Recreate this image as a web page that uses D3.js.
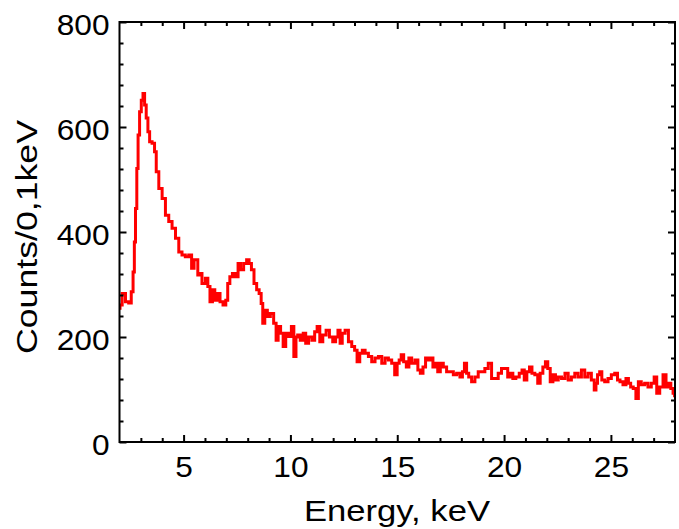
<!DOCTYPE html>
<html>
<head>
<meta charset="utf-8">
<script src="https://cdn.jsdelivr.net/npm/d3@7"></script>
<style>
  html, body { margin: 0; padding: 0; background: #fff; }
  svg { display: block; }
  text { font-family: "Liberation Sans", Arial, Helvetica, sans-serif; fill: #000; }
</style>
</head>
<body>
<svg id="chart" width="679" height="529"></svg>
<script>
// Spectrum: channel energy (keV) and counts per 0.1 keV
const energy = [
  2.00, 2.05, 2.20, 2.36, 2.50, 2.60, 2.67, 2.72, 2.78, 2.84, 2.90, 2.98, 3.06, 3.14, 3.21, 3.29,
  3.37, 3.45, 3.60, 3.68, 3.76, 3.92, 4.07, 4.23, 4.38, 4.54, 4.70, 4.85, 5.00, 5.16, 5.32, 5.43,
  5.55, 5.63, 5.70, 5.78, 5.94, 6.10, 6.17, 6.30, 6.40, 6.52, 6.64, 6.77, 6.92, 7.03, 7.10, 7.23,
  7.34, 7.50, 7.60, 7.73, 7.89, 8.01, 8.12, 8.23, 8.36, 8.48, 8.59, 8.67, 8.74, 8.86, 8.98, 9.14,
  9.29, 9.37, 9.48, 9.60, 9.72, 9.84, 9.99, 10.10, 10.22, 10.30, 10.38, 10.54, 10.66, 10.77, 10.93, 11.08,
  11.19, 11.31, 11.44, 11.59, 11.75, 11.90, 12.06, 12.17, 12.28, 12.37, 12.48, 12.64, 12.79, 12.95, 13.06, 13.18,
  13.31, 13.42, 13.57, 13.73, 13.88, 14.04, 14.20, 14.35, 14.51, 14.66, 14.82, 14.94, 15.05, 15.13, 15.24, 15.36,
  15.49, 15.60, 15.75, 15.91, 16.02, 16.14, 16.27, 16.38, 16.49, 16.61, 16.73, 16.84, 16.95, 17.08, 17.23, 17.39,
  17.55, 17.70, 17.86, 18.01, 18.09, 18.20, 18.29, 18.40, 18.56, 18.71, 18.87, 19.02, 19.18, 19.34, 19.49, 19.65,
  19.80, 19.96, 20.12, 20.22, 20.35, 20.47, 20.63, 20.79, 20.89, 21.00, 21.13, 21.25, 21.36, 21.52, 21.63, 21.75,
  21.88, 21.99, 22.10, 22.22, 22.35, 22.46, 22.61, 22.77, 22.93, 23.07, 23.23, 23.39, 23.54, 23.70, 23.85, 24.01,
  24.16, 24.28, 24.32, 24.43, 24.52, 24.63, 24.79, 24.94, 25.10, 25.26, 25.36, 25.49, 25.64, 25.77, 25.87, 25.98,
  26.11, 26.23, 26.34, 26.50, 26.66, 26.81, 26.97, 27.08, 27.21, 27.36, 27.52, 27.64, 27.75, 27.86, 27.96, 28.00
];
const counts = [
  255, 261, 283, 267, 265, 286, 324, 381, 445, 521, 585, 629, 651, 664, 642, 617,
  591, 572, 569, 553, 515, 483, 464, 432, 420, 407, 388, 362, 356, 353, 356, 331,
  347, 347, 318, 321, 302, 312, 296, 267, 290, 270, 283, 267, 261, 270, 302, 315,
  321, 315, 340, 328, 340, 347, 340, 328, 302, 290, 283, 264, 226, 251, 239, 245,
  226, 194, 220, 207, 182, 207, 201, 220, 163, 200, 204, 194, 207, 188, 200, 194,
  210, 220, 191, 204, 213, 200, 191, 200, 213, 188, 207, 213, 191, 182, 175, 153,
  169, 175, 169, 163, 153, 160, 163, 150, 160, 156, 150, 128, 150, 156, 166, 153,
  143, 160, 150, 156, 137, 131, 143, 160, 156, 160, 143, 150, 134, 150, 143, 134,
  134, 128, 131, 124, 134, 150, 131, 124, 115, 124, 134, 134, 140, 150, 121, 121,
  131, 140, 140, 124, 131, 121, 124, 131, 137, 118, 134, 143, 131, 128, 112, 131,
  143, 153, 140, 115, 128, 118, 124, 121, 131, 118, 124, 131, 124, 137, 124, 131,
  118, 99, 112, 128, 134, 118, 115, 121, 128, 131, 118, 115, 109, 121, 112, 105,
  102, 83, 115, 109, 112, 105, 112, 124, 93, 105, 128, 105, 112, 102, 93, 88
];

// Axis ticks
const xMajorTicks = [5, 10, 15, 20, 25];
const xMinorTicks = d3.range(3, 28, 1).filter(v => v % 5 !== 0);
const yMajorTicks = [0, 200, 400, 600, 800];
const yMinorTicks = d3.range(40, 800, 40).filter(v => v % 200 !== 0);

const xLabel = "Energy, keV";
const yLabel = "Counts/0,1keV";

const plotLeft = 119.5, plotRight = 675, plotTop = 22, plotBottom = 442;

const svg = d3.select("#chart");

const x = d3.scaleLinear().domain([2, 28]).range([plotLeft, plotRight]);
const y = d3.scaleLinear().domain([0, 800]).range([plotBottom, plotTop]);

const data = energy.map((e, i) => ({ e, c: counts[i] }));

// Plot clip
svg.append("defs").append("clipPath").attr("id", "plot-clip")
  .append("rect")
  .attr("x", plotLeft).attr("y", plotTop)
  .attr("width", plotRight - plotLeft).attr("height", plotBottom - plotTop);

// Spectrum drawn as a histogram-style step trace
const line = d3.line().curve(d3.curveStep).x(d => x(d.e)).y(d => y(d.c));
svg.append("path")
  .datum(data)
  .attr("clip-path", "url(#plot-clip)")
  .attr("fill", "none")
  .attr("stroke", "#ff0000")
  .attr("stroke-width", 3)
  .attr("stroke-linejoin", "miter")
  .attr("d", line);

const MAJOR = 7, MINOR = 4;
const digitWidth = 17.6;

function styleAxis(g) {
  g.select(".domain").remove();
  g.selectAll(".tick line").attr("stroke", "#000").attr("stroke-width", 2);
}

// Bottom axis: labelled major ticks pointing inward, plus minor ticks
svg.append("g")
  .attr("transform", `translate(0,${plotBottom})`)
  .call(d3.axisBottom(x).tickValues(xMajorTicks).tickSize(-MAJOR).tickPadding(14).tickFormat(d3.format("d")))
  .call(styleAxis)
  .call(g => g.selectAll(".tick text")
    .attr("font-size", 29)
    .attr("textLength", d => String(d).length * digitWidth)
    .attr("lengthAdjust", "spacingAndGlyphs"));
svg.append("g")
  .attr("transform", `translate(0,${plotBottom})`)
  .call(d3.axisBottom(x).tickValues(xMinorTicks).tickSize(-MINOR).tickFormat(""))
  .call(styleAxis);

// Top axis: ticks only
svg.append("g")
  .attr("transform", `translate(0,${plotTop})`)
  .call(d3.axisTop(x).tickValues(xMajorTicks).tickSize(-MAJOR).tickFormat(""))
  .call(styleAxis);
svg.append("g")
  .attr("transform", `translate(0,${plotTop})`)
  .call(d3.axisTop(x).tickValues(xMinorTicks).tickSize(-MINOR).tickFormat(""))
  .call(styleAxis);

// Left axis
svg.append("g")
  .attr("transform", `translate(${plotLeft},0)`)
  .call(d3.axisLeft(y).tickValues(yMajorTicks).tickSize(-MAJOR).tickPadding(10).tickFormat(d3.format("d")))
  .call(styleAxis)
  .call(g => g.selectAll(".tick text")
    .attr("font-size", 29)
    .attr("dy", "0.43em")
    .attr("textLength", d => String(d).length * digitWidth)
    .attr("lengthAdjust", "spacingAndGlyphs"));
svg.append("g")
  .attr("transform", `translate(${plotLeft},0)`)
  .call(d3.axisLeft(y).tickValues(yMinorTicks).tickSize(-MINOR).tickFormat(""))
  .call(styleAxis);

// Right axis: ticks only
svg.append("g")
  .attr("transform", `translate(${plotRight},0)`)
  .call(d3.axisRight(y).tickValues(yMajorTicks).tickSize(-MAJOR).tickFormat(""))
  .call(styleAxis);
svg.append("g")
  .attr("transform", `translate(${plotRight},0)`)
  .call(d3.axisRight(y).tickValues(yMinorTicks).tickSize(-MINOR).tickFormat(""))
  .call(styleAxis);

// Frame
svg.append("rect")
  .attr("x", plotLeft).attr("y", plotTop)
  .attr("width", plotRight - plotLeft).attr("height", plotBottom - plotTop)
  .attr("fill", "none")
  .attr("stroke", "#000")
  .attr("stroke-width", 2);

// Axis titles
svg.append("text")
  .attr("x", 397).attr("y", 521)
  .attr("text-anchor", "middle")
  .attr("font-size", 29)
  .attr("textLength", 186)
  .attr("lengthAdjust", "spacingAndGlyphs")
  .text(xLabel);

svg.append("text")
  .attr("transform", "translate(37,237) rotate(-90)")
  .attr("text-anchor", "middle")
  .attr("font-size", 30)
  .attr("textLength", 234)
  .attr("lengthAdjust", "spacingAndGlyphs")
  .text(yLabel);
</script>
</body>
</html>
